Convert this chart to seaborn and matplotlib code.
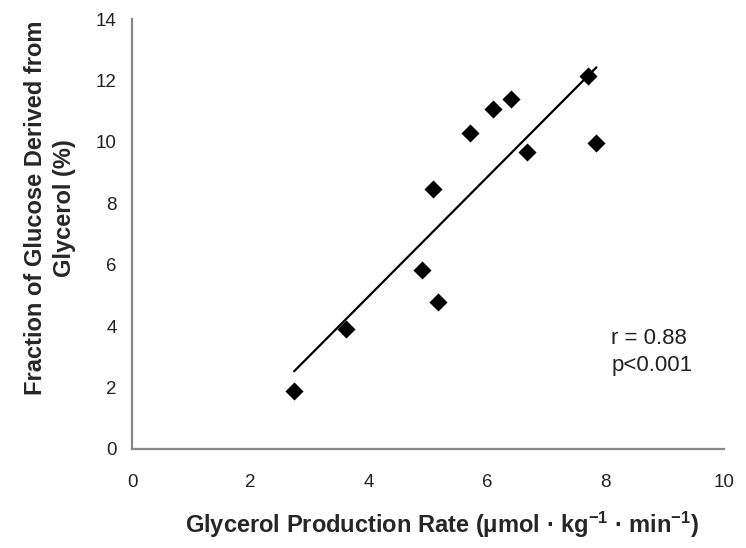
import matplotlib
matplotlib.use("Agg")
import matplotlib.pyplot as plt
import seaborn as sns
import pandas as pd

# Data
glycerol_rate = [2.74, 3.61, 4.90, 5.17, 5.09, 5.71, 6.11, 6.40, 6.68, 7.70, 7.85]
glucose_fraction = [1.90, 3.90, 5.83, 4.80, 8.47, 10.30, 11.07, 11.41, 9.67, 12.15, 9.97]
x_ticks = [0, 2, 4, 6, 8, 10]
y_ticks = [0, 2, 4, 6, 8, 10, 12, 14]

df = pd.DataFrame({"x": glycerol_rate, "y": glucose_fraction})

sns.set_style("white")
plt.rcParams['font.family'] = ['Liberation Sans', 'DejaVu Sans']
plt.rcParams['mathtext.fontset'] = 'custom'
plt.rcParams['mathtext.rm'] = 'Liberation Sans:bold'
plt.rcParams['mathtext.default'] = 'rm'

fig = plt.figure(figsize=(7.46, 5.48), dpi=100)
ax = fig.add_axes([0.177, 0.181, 0.793, 0.784])

sns.regplot(data=df, x="x", y="y", ax=ax, ci=None, truncate=True,
            marker="D", color="black",
            scatter_kws={"s": 85, "linewidths": 0, "alpha": 1},
            line_kws={"lw": 1.6, "color": "black"})

ax.set_xlim(0, 10)
ax.set_ylim(0, 14)
ax.set_xticks(x_ticks)
ax.set_yticks(y_ticks)
ax.tick_params(axis="both", direction="out", length=4, width=1.2,
               color="#888888", labelsize=13.5, labelcolor="#222222")
ax.tick_params(axis="y", pad=7)
ax.tick_params(axis="x", pad=14)
for s in ["top", "right"]:
    ax.spines[s].set_visible(False)
for s in ["left", "bottom"]:
    ax.spines[s].set_color("#888888")
    ax.spines[s].set_linewidth(1.6)

ax.set_xlabel("Glycerol Production Rate (\u03bcmol \u00b7 kg$^{-1}$ \u00b7 min$^{-1}$)",
              fontsize=17, fontweight="bold", ha="center", va="center")
ax.xaxis.set_label_coords(0.524, -0.177)
ax.set_ylabel("Fraction of Glucose Derived from\nGlycerol (%)",
              fontsize=17, fontweight="bold", linespacing=1.3,
              multialignment="center", ha="center", va="center")
ax.yaxis.set_label_coords(-0.1385, 0.56)

ax.text(8.1, 3.15, "r = 0.88\np<0.001", fontsize=16, color="#222222",
        va="center", ha="left", linespacing=1.4)

fig.savefig("out.png", dpi=100)
